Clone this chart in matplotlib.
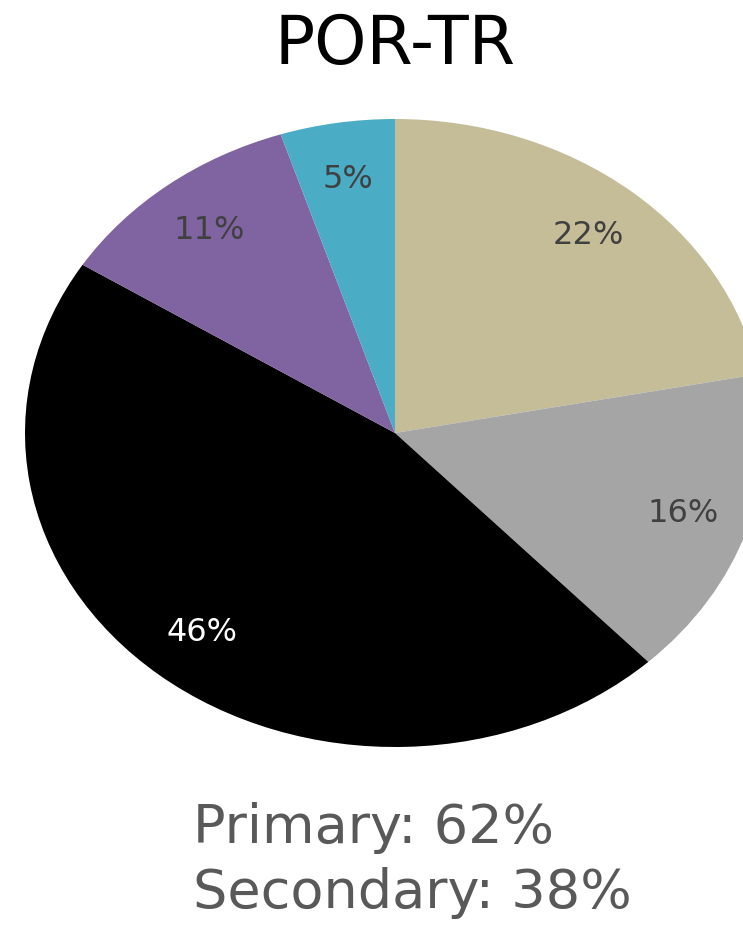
import matplotlib.pyplot as plt

title = "POR-TR"
shares = [22, 16, 46, 11, 5]
colors = ['#C4BD97', '#A5A5A5', '#000000', '#8064A2', '#4BACC6']
label_colors = ['#404040', '#404040', '#FFFFFF', '#404040', '#404040']
summary = ["Primary: 62%", "Secondary: 38%"]

fig = plt.figure(figsize=(7.43, 9.29), dpi=100)
ax = fig.add_axes([0, 0, 1, 1])

wedges, texts, autotexts = ax.pie(
    shares, colors=colors, startangle=90, counterclock=False,
    autopct='%1.0f%%', pctdistance=0.82,
    wedgeprops=dict(linewidth=0),
    textprops=dict(fontsize=23, family='DejaVu Sans'))
for t, c in zip(autotexts, label_colors):
    t.set_color(c)

# pie is slightly stretched horizontally and runs off the right edge
cx, cy, rx, ry = 395, 434, 370, 314
ax.set_aspect('auto')
ax.set_xlim(-cx / rx, (743 - cx) / rx)
ax.set_ylim(-(929 - cy) / ry, cy / ry)
ax.axis('off')

fig.text(395 / 743, 1 - 45 / 929, title, ha='center', va='center',
         fontsize=48, family='DejaVu Sans', color='#000000')
fig.text(193 / 743, 1 - 828 / 929, summary[0], ha='left', va='center',
         fontsize=39, family='DejaVu Sans', color='#595959')
fig.text(193 / 743, 1 - 893 / 929, summary[1], ha='left', va='center',
         fontsize=39, family='DejaVu Sans', color='#595959')

fig.savefig('out.png', dpi=100)
